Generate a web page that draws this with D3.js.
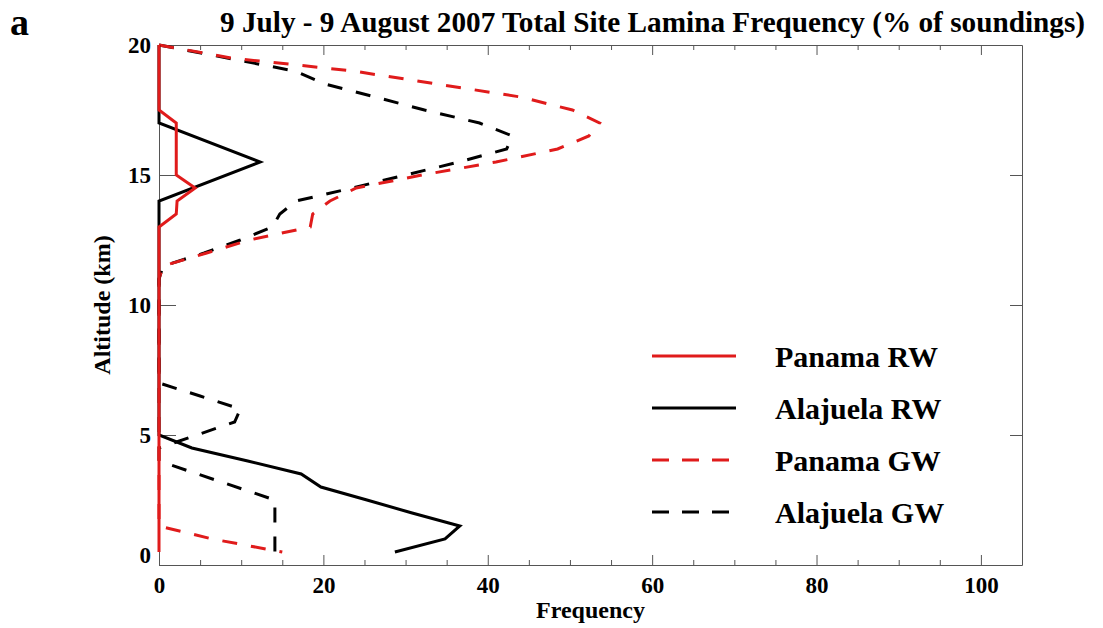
<!DOCTYPE html>
<html>
<head>
<meta charset="utf-8">
<script src="https://cdn.jsdelivr.net/npm/d3@7"></script>
<style>
  body { margin: 0; background: #fff; }
  svg { display: block; font-family: "Liberation Serif", "Times New Roman", serif; font-weight: bold; }
  svg text { font-family: "Liberation Serif", "Times New Roman", serif; font-weight: bold; }
  .line { fill: none; stroke-width: 3; stroke-linejoin: miter; }
  .axis path, .axis line { stroke: #555; }
</style>
</head>
<body>
<svg width="1103" height="628"></svg>
<script>
// altitude (km) / frequency (%) vertices
const panamaRwAlt = [20, 17.5, 17, 15, 14.5, 14, 13.5, 13, 0.5];
const panamaRwFreq = [0, 0, 2.1, 2.1, 4.4, 2.2, 2.1, 0, 0];

const alajuelaRwAlt = [20, 17, 15.5, 14, 5, 4.5, 4, 3.5, 3, 2.5, 2, 1.5, 1, 0.5];
const alajuelaRwFreq = [0, 0, 12.3, 0, 0, 4.0, 10.8, 17.3, 19.7, 25.3, 30.8, 36.6, 34.8, 28.7];

const panamaGwAlt = [20, 19.5, 19, 18.5, 18, 17.5, 17, 16.5, 16, 15.5, 15, 14.5, 14, 13.5, 13, 12.5, 12, 11.5, 11, 1.5, 1, 0.5];
const panamaGwFreq = [0, 8.8, 23.6, 33.8, 44, 50.3, 53.6, 52.3, 48.5, 41, 32, 24, 20.8, 18.7, 18.4, 11, 5.8, 0.5, 0, 0, 6.5, 15];

const alajuelaGwAlt = [20, 19.5, 19, 18.5, 18, 17.5, 17, 16.5, 16, 15.5, 15, 14.5, 14, 13.5, 13, 12.5, 12, 11.5, 11, 7, 6.5, 6, 5.5, 5, 4.5, 4, 2.5, 0.5];
const alajuelaGwFreq = [0, 8.3, 16.5, 20.2, 26.3, 32.3, 39, 43, 42.3, 36.5, 30, 23.5, 16.7, 14.7, 13.8, 9.9, 5.5, 0.5, 0, 0, 5, 9.9, 9.2, 4.6, 0, 0, 14.1, 14.1];

const xMajor = [0, 20, 40, 60, 80, 100];
const xMinor = d3.range(5, 105, 5).filter(v => v % 20 !== 0);
const yMajor = [0, 5, 10, 15, 20];

const legendNames = ["Panama RW", "Alajuela RW", "Panama GW", "Alajuela GW"];

const svg = d3.select("svg");

const x = d3.scaleLinear().domain([0, 105]).range([159, 1022]);
const y = d3.scaleLinear().domain([0, 20]).range([565, 45]);

const red = "#e01b1b";
const series = [
  // drawn bottom to top
  { alt: alajuelaGwAlt, freq: alajuelaGwFreq, color: "#000", dash: "15,14" },
  { alt: panamaGwAlt, freq: panamaGwFreq, color: red, dash: "15,14" },
  { alt: alajuelaRwAlt, freq: alajuelaRwFreq, color: "#000", dash: null },
  { alt: panamaRwAlt, freq: panamaRwFreq, color: red, dash: null }
];

// axes
const fmt = d3.format("d");

function labelStyle(g) {
  g.attr("font-family", null).attr("font-size", null);
  g.selectAll("text")
    .attr("font-size", 23)
    .attr("font-family", "Liberation Serif")
    .attr("font-weight", "bold")
    .attr("fill", "#000");
}

svg.append("g")
  .attr("class", "axis")
  .attr("transform", "translate(0," + y(0) + ")")
  .call(d3.axisBottom(x).tickValues(xMajor).tickSizeInner(-10).tickSizeOuter(0).tickPadding(12).tickFormat(fmt))
  .call(labelStyle);

svg.append("g")
  .attr("class", "axis")
  .attr("transform", "translate(0," + y(0) + ")")
  .call(d3.axisBottom(x).tickValues(xMinor).tickSizeInner(-5).tickSizeOuter(0).tickFormat(""))
  .call(g => g.select(".domain").remove());

svg.append("g")
  .attr("class", "axis")
  .attr("transform", "translate(0," + y(20) + ")")
  .call(d3.axisTop(x).tickValues(xMajor).tickSizeInner(-10).tickSizeOuter(0).tickFormat(""));

svg.append("g")
  .attr("class", "axis")
  .attr("transform", "translate(0," + y(20) + ")")
  .call(d3.axisTop(x).tickValues(xMinor).tickSizeInner(-5).tickSizeOuter(0).tickFormat(""))
  .call(g => g.select(".domain").remove());

svg.append("g")
  .attr("class", "axis")
  .attr("transform", "translate(" + x(0) + ",0)")
  .call(d3.axisLeft(y).tickValues(yMajor).tickSizeInner(-17).tickSizeOuter(0).tickPadding(8).tickFormat(fmt))
  .call(g => g.selectAll(".tick line").attr("stroke", "#888"))
  .call(labelStyle)
  .call(g => g.selectAll(".tick").filter(d => d === 0).select("text").attr("y", -10));

svg.append("g")
  .attr("class", "axis")
  .attr("transform", "translate(" + x(105) + ",0)")
  .call(d3.axisRight(y).tickValues(yMajor).tickSizeInner(-12).tickSizeOuter(0).tickFormat(""));

// series
const line = d3.line()
  .x(d => x(d[1]))
  .y(d => y(d[0]));

svg.selectAll(".line")
  .data(series)
  .enter()
  .append("path")
  .attr("class", "line")
  .attr("stroke", d => d.color)
  .attr("stroke-dasharray", d => d.dash)
  .attr("d", d => line(d3.zip(d.alt, d.freq)));

// titles
svg.append("text")
  .attr("x", 10)
  .attr("y", 35)
  .attr("font-size", 38)
  .text("a");

svg.append("text")
  .attr("x", 220)
  .attr("y", 32)
  .attr("font-size", 29)
  .attr("textLength", 865)
  .attr("lengthAdjust", "spacingAndGlyphs")
  .text("9 July - 9 August 2007 Total Site Lamina Frequency (% of soundings)");

svg.append("text")
  .attr("x", (x(0) + x(105)) / 2)
  .attr("y", 618)
  .attr("text-anchor", "middle")
  .attr("font-size", 24)
  .text("Frequency");

svg.append("text")
  .attr("transform", "translate(110," + y(10) + ") rotate(-90)")
  .attr("text-anchor", "middle")
  .attr("font-size", 24)
  .text("Altitude (km)");

// legend
const legendStyles = [series[3], series[2], series[1], series[0]];
const legend = svg.selectAll(".legend")
  .data(legendNames)
  .enter()
  .append("g")
  .attr("class", "legend")
  .attr("transform", (d, i) => "translate(0," + (356 + i * 52) + ")");

legend.append("line")
  .attr("x1", 652)
  .attr("x2", 736)
  .attr("stroke", (d, i) => legendStyles[i].color)
  .attr("stroke-width", 3)
  .attr("stroke-dasharray", (d, i) => legendStyles[i].dash ? "17,13" : null);

legend.append("text")
  .attr("x", 775)
  .attr("dy", "0.35em")
  .attr("font-size", 30)
  .text(d => d);
</script>
</body>
</html>
